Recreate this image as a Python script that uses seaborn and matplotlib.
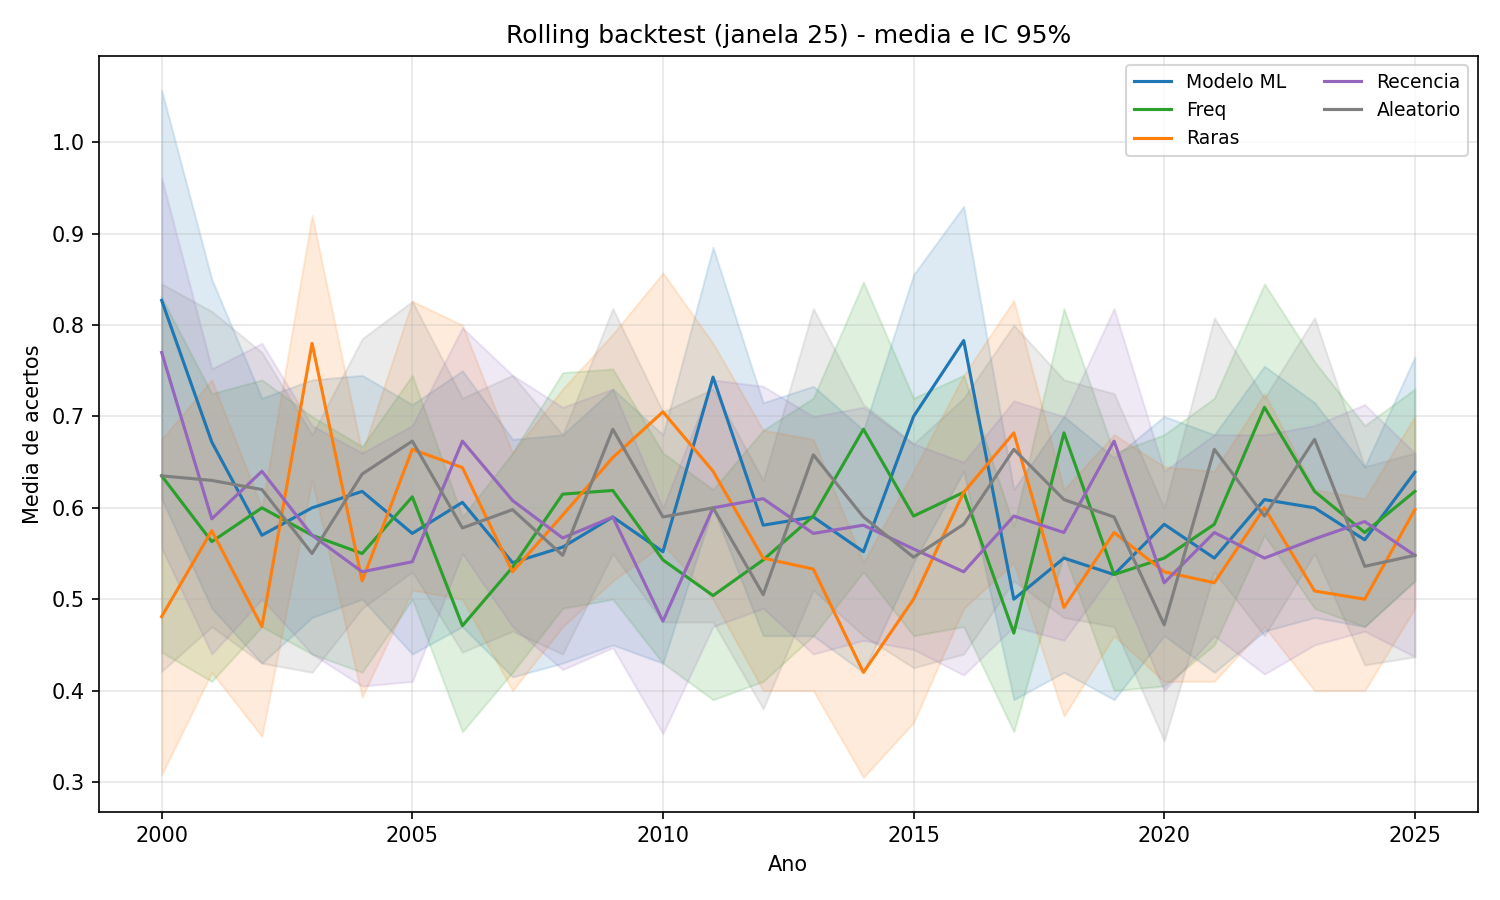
import matplotlib
matplotlib.use("Agg")
import matplotlib.pyplot as plt
import seaborn as sns
import pandas as pd

anos = list(range(2000, 2026))

estrategias = ["Modelo ML", "Freq", "Raras", "Recencia", "Aleatorio"]
cores = ["tab:blue", "tab:green", "tab:orange", "tab:purple", "tab:gray"]

# MEDIAS
media_ml = [0.827, 0.672, 0.570, 0.600, 0.618, 0.572, 0.606, 0.540, 0.557, 0.590, 0.552, 0.743, 0.581,
            0.590, 0.552, 0.700, 0.783, 0.500, 0.545, 0.527, 0.582, 0.545, 0.609, 0.600, 0.565, 0.639]
media_freq = [0.635, 0.563, 0.600, 0.570, 0.550, 0.612, 0.471, 0.535, 0.615, 0.619, 0.543, 0.504, 0.543,
              0.591, 0.686, 0.591, 0.617, 0.463, 0.682, 0.527, 0.545, 0.582, 0.710, 0.618, 0.573, 0.618]
media_raras = [0.481, 0.575, 0.470, 0.780, 0.520, 0.664, 0.644, 0.530, 0.592, 0.655, 0.705, 0.640, 0.545,
               0.533, 0.420, 0.500, 0.617, 0.682, 0.491, 0.573, 0.530, 0.518, 0.600, 0.509, 0.500, 0.598]
media_rec = [0.770, 0.588, 0.640, 0.570, 0.530, 0.541, 0.673, 0.608, 0.567, 0.590, 0.476, 0.600, 0.610,
             0.572, 0.581, 0.555, 0.530, 0.591, 0.573, 0.673, 0.518, 0.573, 0.545, 0.566, 0.585, 0.548]
media_alea = [0.635, 0.630, 0.620, 0.550, 0.637, 0.673, 0.578, 0.598, 0.548, 0.686, 0.590, 0.600, 0.505,
              0.658, 0.590, 0.546, 0.582, 0.664, 0.609, 0.590, 0.472, 0.664, 0.591, 0.675, 0.536, 0.548]

# IC 95% - LIMITE INFERIOR
inf_ml = [0.610, 0.490, 0.430, 0.480, 0.500, 0.440, 0.470, 0.415, 0.430, 0.450, 0.430, 0.600, 0.460,
          0.460, 0.420, 0.540, 0.640, 0.390, 0.420, 0.390, 0.460, 0.420, 0.465, 0.480, 0.470, 0.520]
inf_freq = [0.442, 0.410, 0.470, 0.440, 0.420, 0.500, 0.355, 0.420, 0.490, 0.500, 0.430, 0.390, 0.410,
            0.460, 0.530, 0.460, 0.470, 0.355, 0.550, 0.400, 0.405, 0.450, 0.570, 0.490, 0.470, 0.520]
inf_raras = [0.308, 0.420, 0.350, 0.630, 0.393, 0.510, 0.500, 0.400, 0.470, 0.520, 0.560, 0.500, 0.400,
             0.400, 0.305, 0.365, 0.490, 0.540, 0.372, 0.460, 0.410, 0.410, 0.470, 0.400, 0.400, 0.490]
inf_rec = [0.556, 0.440, 0.500, 0.440, 0.405, 0.410, 0.550, 0.470, 0.423, 0.447, 0.353, 0.470, 0.490,
           0.440, 0.455, 0.445, 0.417, 0.470, 0.455, 0.530, 0.400, 0.460, 0.418, 0.450, 0.465, 0.437]
inf_alea = [0.421, 0.470, 0.430, 0.420, 0.490, 0.530, 0.442, 0.465, 0.440, 0.550, 0.475, 0.475, 0.380,
            0.510, 0.460, 0.425, 0.440, 0.520, 0.480, 0.470, 0.345, 0.530, 0.460, 0.550, 0.428, 0.437]

# IC 95% - LIMITE SUPERIOR
sup_ml = [1.057, 0.850, 0.720, 0.740, 0.745, 0.713, 0.750, 0.675, 0.680, 0.730, 0.680, 0.885, 0.715,
          0.733, 0.685, 0.855, 0.930, 0.620, 0.700, 0.655, 0.700, 0.680, 0.755, 0.715, 0.645, 0.765]
sup_freq = [0.830, 0.725, 0.740, 0.700, 0.667, 0.745, 0.590, 0.660, 0.748, 0.752, 0.660, 0.620, 0.685,
            0.720, 0.847, 0.720, 0.745, 0.580, 0.818, 0.660, 0.680, 0.720, 0.845, 0.760, 0.690, 0.730]
sup_raras = [0.675, 0.740, 0.600, 0.920, 0.660, 0.826, 0.800, 0.660, 0.730, 0.790, 0.857, 0.780, 0.685,
             0.675, 0.540, 0.640, 0.745, 0.827, 0.620, 0.680, 0.645, 0.640, 0.725, 0.620, 0.610, 0.700]
sup_rec = [0.961, 0.752, 0.780, 0.690, 0.660, 0.690, 0.797, 0.745, 0.710, 0.730, 0.600, 0.740, 0.733,
           0.700, 0.710, 0.670, 0.650, 0.717, 0.700, 0.818, 0.640, 0.680, 0.680, 0.690, 0.713, 0.660]
sup_alea = [0.845, 0.815, 0.770, 0.680, 0.785, 0.826, 0.720, 0.745, 0.680, 0.818, 0.705, 0.730, 0.630,
            0.818, 0.713, 0.670, 0.720, 0.800, 0.740, 0.725, 0.600, 0.808, 0.720, 0.808, 0.645, 0.660]

medias = [media_ml, media_freq, media_raras, media_rec, media_alea]
inferiores = [inf_ml, inf_freq, inf_raras, inf_rec, inf_alea]
superiores = [sup_ml, sup_freq, sup_raras, sup_rec, sup_alea]

linhas = []
for nome, med, lo, hi in zip(estrategias, medias, inferiores, superiores):
    for ano, m, a, b in zip(anos, med, lo, hi):
        linhas.append({"ano": ano, "estrategia": nome, "media": m, "inf": a, "sup": b})
df = pd.DataFrame(linhas)

fig, ax = plt.subplots(figsize=(10, 6), dpi=150)

sns.lineplot(
    data=df,
    x="ano",
    y="media",
    hue="estrategia",
    hue_order=estrategias,
    palette=cores,
    errorbar=None,
    linewidth=1.5,
    ax=ax
)

for nome, cor in zip(estrategias, cores):
    sub = df[df["estrategia"] == nome]
    ax.fill_between(sub["ano"], sub["inf"], sub["sup"], color=cor, alpha=0.15)

ax.set_title("Rolling backtest (janela 25) - media e IC 95%")
ax.set_xlabel("Ano")
ax.set_ylabel("Media de acertos")
ax.grid(True, alpha=0.3)
ax.legend(ncol=2, loc="upper right", fontsize=9)

fig.subplots_adjust(left=0.066, right=0.985, top=0.938, bottom=0.098)
fig.savefig("out.png")
